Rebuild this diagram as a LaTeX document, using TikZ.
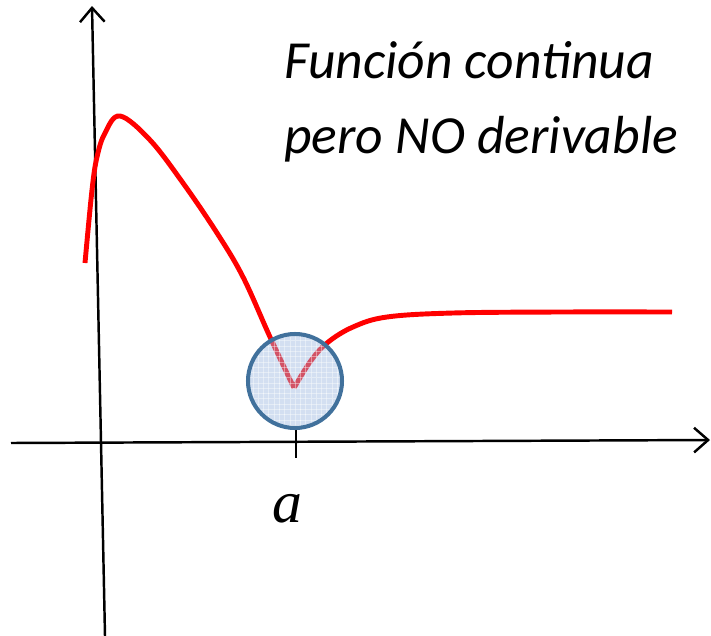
\documentclass[tikz,border=0pt]{standalone}
\usepackage{fontspec}
\newfontfamily\calib{Carlito}
\newfontfamily\tnr{Liberation Serif}
\usepackage{tikz}
\usetikzlibrary{arrows.meta,patterns}
\definecolor{curve}{HTML}{FF0000}
\definecolor{ink}{HTML}{000000}
\definecolor{ring}{HTML}{41719C}
\definecolor{disc}{HTML}{9DB8E0}
\tikzset{
  axis/.style={draw=ink, line width=1.4pt, -{Straight Barb[length=8pt,width=14pt,line width=1.4pt]}},
  tick/.style={draw=ink, line width=1.4pt},
  func/.style={draw=curve, line width=2.8pt},
  spot/.style={draw=ring, line width=2.3pt},
  title/.style={font=\calib\itshape\fontsize{30.5}{43}\selectfont, align=left, inner sep=0pt},
  lbl/.style={font=\tnr\itshape\fontsize{34}{34}\selectfont, inner sep=0pt}
}
\begin{document}
\begin{tikzpicture}[x=0.02cm, y=-0.02cm]
  \useasboundingbox (0,0) rectangle (711,636);
  % axes
  \coordinate (xl) at (11,443);
  \coordinate (xr) at (710,440);
  \coordinate (yb) at (105,636);
  \coordinate (yt) at (92,6);
  \draw[axis] (xl) -- (xr);
  \draw[axis] (yb) -- (yt);
  % point a
  \coordinate (ta) at (296,426);
  \coordinate (tb) at (296,458);
  \draw[tick] (ta) -- (tb);
  \node[lbl] (a) at (287,509) {a};
  % function
  \draw[func] plot[smooth, tension=0.6] coordinates {(85,263) (92,190) (97,157) (105,133) (120,116) (150,140) (183,183) (217,233) (243,277) (270,337) (294,388)};
  \draw[func] plot[smooth, tension=0.6] coordinates {(294,388) (310,362) (327,343) (353,327) (387,317) (453,313) (560,312) (672,312)};
  % marked cusp
  \coordinate (c) at (295,381);
  \path[fill=disc, fill opacity=0.45] (c) circle[radius=47];
  \path[pattern=grid, pattern color=white, opacity=0.4] (c) circle[radius=47];
  \draw[spot] (c) circle[radius=47];
  \node[title, anchor=north west] (t) at (284,41) {Función continua\\pero NO derivable};
\end{tikzpicture}
\end{document}
